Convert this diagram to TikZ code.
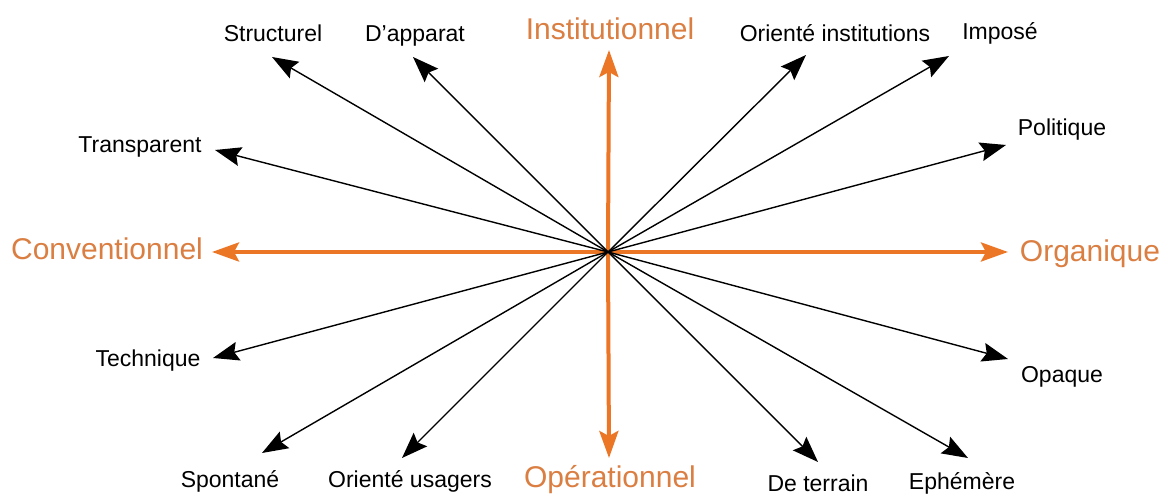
\documentclass[tikz,border=0pt]{standalone}
\usepackage{fontspec}
\setmainfont{Liberation Sans}
\usetikzlibrary{arrows.meta}
\definecolor{axisorange}{RGB}{234,118,38}
\definecolor{poleorange}{RGB}{218,126,66}

\begin{document}
\begin{tikzpicture}[x=1pt,y=1pt,
  tip/.style={-{Stealth[length=26pt,width=19pt,inset=4pt]},line width=1.4pt},
  axis/.style={-{Stealth[length=27pt,width=19pt,inset=5pt]},line width=4pt,axisorange},
  lbl/.style={font=\fontsize{23}{23}\selectfont,inner sep=0pt,anchor=base},
  pole/.style={font=\fontsize{30}{30}\selectfont,text=poleorange,inner sep=0pt,anchor=base}]
\useasboundingbox (0,0) rectangle (1173,497);

% centre of the diagram
\coordinate (c) at (608,245);

% arrow tips
\coordinate (struct) at (272,440);
\coordinate (appar) at (413,440);
\coordinate (orinst) at (806,442);
\coordinate (impose) at (949,441);
\coordinate (transp) at (215,347);
\coordinate (polit) at (1006,352);
\coordinate (techn) at (213,139);
\coordinate (opaq) at (1008,138);
\coordinate (spont) at (262,44);
\coordinate (orusag) at (402,39);
\coordinate (terrain) at (818,35);
\coordinate (ephem) at (968,39);
\coordinate (inst) at (609,447);
\coordinate (oper) at (609,39);
\coordinate (conv) at (212,245);
\coordinate (organ) at (1008,245);

% draw the two orange axes
\draw[axis] (c) -- (inst);
\draw[axis] (c) -- (oper);
\draw[axis] (c) -- (conv);
\draw[axis] (c) -- (organ);

% draw black arrows
\foreach \t in {struct,appar,orinst,impose,transp,polit,techn,opaq,spont,orusag,terrain,ephem}
\draw[tip] (c) -- (\t);

% poles
\node[pole] (instl) at (610,457) {Institutionnel};
\node[pole] (operl) at (610,9) {Opérationnel};
\node[pole] (convl) at (107,237) {Conventionnel};
\node[pole] (organl) at (1090,235) {Organique};

% labels
\node[lbl] (structl) at (273,455) {Structurel};
\node[lbl] (apparl) at (415,455) {D’apparat};
\node[lbl] (orinstl) at (835,455) {Orienté institutions};
\node[lbl] (imposel) at (1000,457) {Imposé};
\node[lbl] (transpl) at (140,344) {Transparent};
\node[lbl] (politl) at (1062,361) {Politique};
\node[lbl] (technl) at (148,130) {Technique};
\node[lbl] (opaql) at (1062,114) {Opaque};
\node[lbl] (spontl) at (230,9) {Spontané};
\node[lbl] (orusagl) at (410,9) {Orienté usagers};
\node[lbl] (terrainl) at (818,5) {De terrain};
\node[lbl] (epheml) at (962,7) {Ephémère};

\end{tikzpicture}
\end{document}
